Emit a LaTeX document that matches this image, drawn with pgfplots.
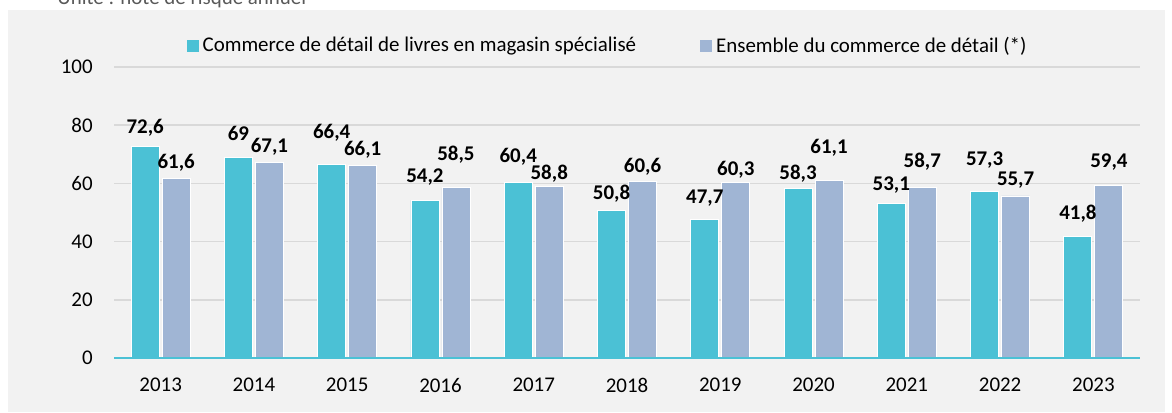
\documentclass[border=0pt]{standalone}
\usepackage{fontspec}
\setmainfont{Carlito}
\usepackage{pgfplots}
\pgfplotsset{compat=1.18}
\usepackage{pgfplotstable}
\definecolor{cyanbar}{RGB}{75,193,213}
\definecolor{bluebar}{RGB}{160,181,212}
\definecolor{bggray}{RGB}{242,242,242}
\definecolor{gridgray}{RGB}{217,217,217}
\definecolor{unitgray}{RGB}{89,89,89}

\pgfplotstableread{
x a b da db
0 72.6 61.6 9.5 8
1 69 67.1 12 8
2 66.4 66.1 16 8
3 54.2 58.5 11.5 16.5
4 60.4 58.8 12.5 6.5
5 50.8 60.6 8 7.5
6 47.7 60.3 10.5 6.5
7 58.3 61.1 7.5 16
8 53.1 58.7 9 12.5
9 57.3 55.7 15.5 8
10 41.8 59.4 11.5 11.5
}\data

\begin{document}
\fontsize{10.5}{12.6}\selectfont
\begin{tikzpicture}[x=1bp,y=1bp]
\fill[bggray] (4,0) rectangle (582.5,201);
\node[anchor=base west, text=unitgray, inner sep=0pt] at (28.5,204) {Unité : note de risque annuel};
\begin{axis}[
  at={(57bp,27bp)}, anchor=south west,
  scale only axis, width=513bp, height=145.5bp,
  ybar=1.5bp, bar width=14bp,
  xmin=-0.5, xmax=10.5, ymin=0, ymax=100,
  xtick={0,...,10},
  xticklabels={2013,2014,2015,2016,2017,2018,2019,2020,2021,2022,2023},
  ytick={0,20,...,100},
  major tick length=0pt,
  axis line style={draw=none},
  ymajorgrids, grid style={gridgray, line width=0.75bp},
  yticklabel style={xshift=-7bp},
  xticklabel style={yshift=-6.5bp},
  /pgf/number format/assume math mode=true,
  nodes near coords={\pgfmathprintnumber[assume math mode=true,use comma,fixed,precision=1]{\pgfplotspointmeta}},
  nodes near coords style={anchor=center, font=\bfseries, yshift=\dy*1bp},
  legend style={at={(0.482,1.072)}, anchor=center, draw=none, fill=none,
    legend columns=2,
    /tikz/every even column/.append style={column sep=30bp}},
  legend image code/.code={\fill[#1, draw=none] (0bp,-3bp) rectangle (6bp,3bp);},
  clip=false,
]
\addplot[fill=cyanbar, draw=white, line width=0.4bp,
  visualization depends on={\thisrow{da} \as \dy}] table[x=x,y=a]{\data};
\addlegendentry{Commerce de détail de livres en magasin spécialisé}
\addplot[fill=bluebar, draw=white, line width=0.4bp,
  visualization depends on={\thisrow{db} \as \dy}] table[x=x,y=b]{\data};
\addlegendentry{Ensemble du commerce de détail (*)}
\draw[cyanbar, line width=1bp] (rel axis cs:0,0) -- (rel axis cs:1,0);
\end{axis}
\pgfresetboundingbox
\path (0,0) rectangle (586,206);
\end{tikzpicture}
\end{document}
